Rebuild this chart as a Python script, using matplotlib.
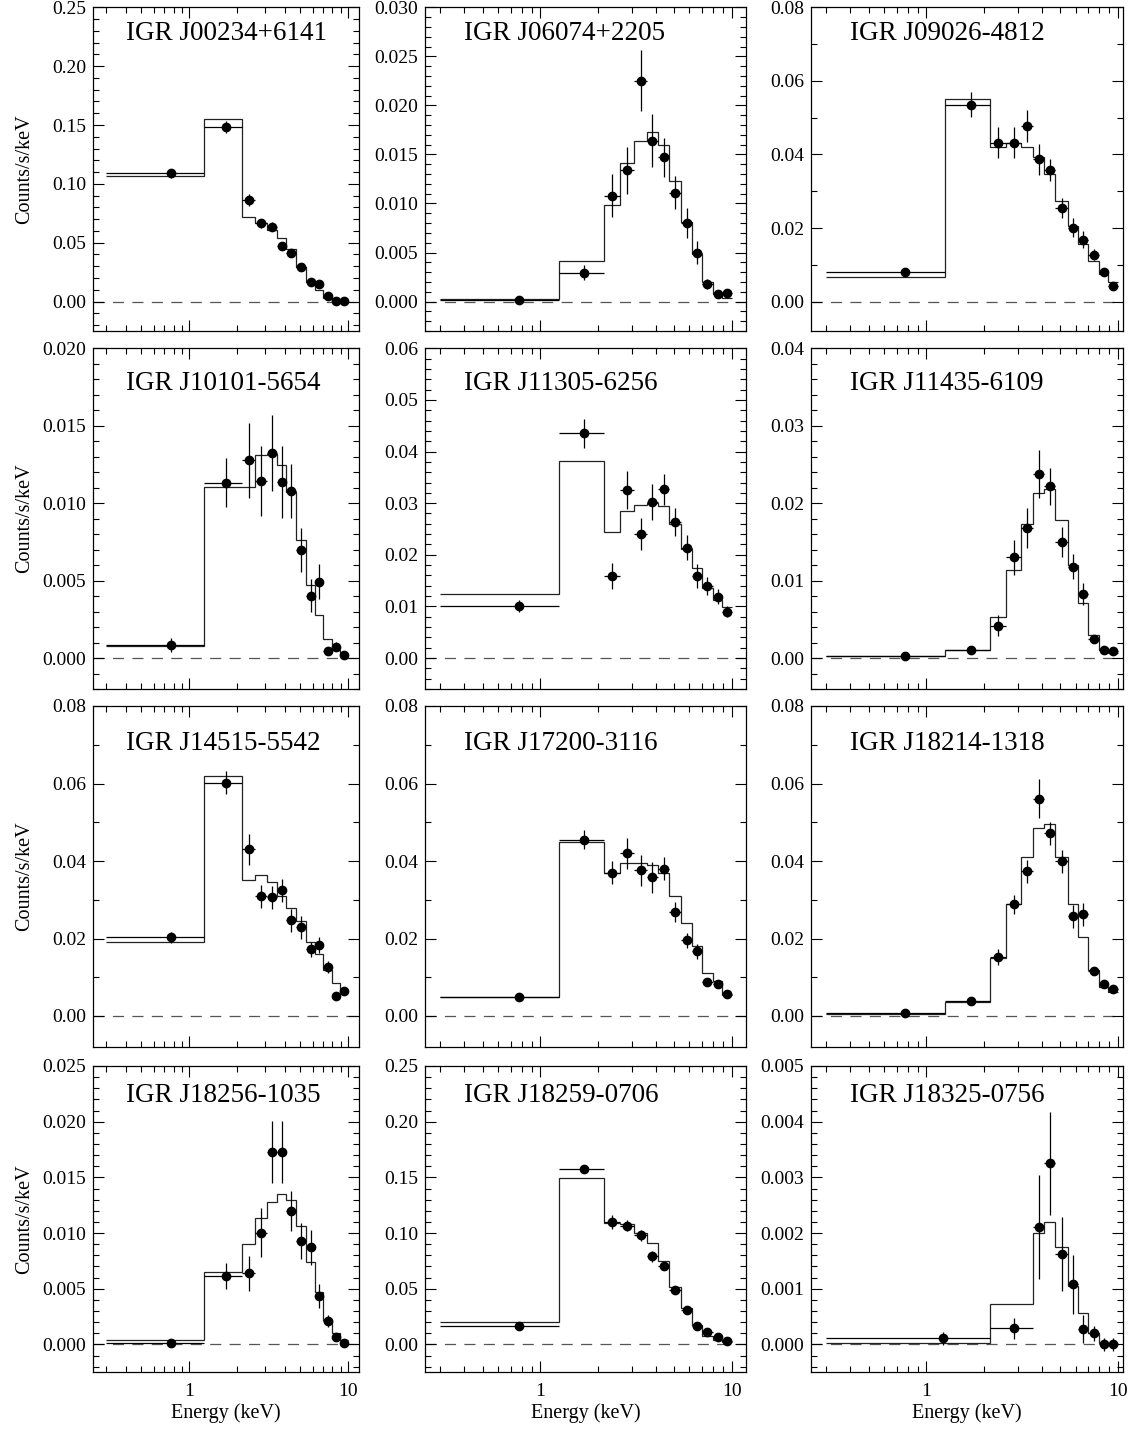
import numpy as np
import matplotlib
matplotlib.use('Agg')
import matplotlib.pyplot as plt
import matplotlib.transforms as mtrans
from matplotlib.ticker import MultipleLocator, FixedLocator, LogLocator, NullFormatter, FuncFormatter

plt.rcParams['font.family'] = ['Liberation Serif', 'DejaVu Serif']
plt.rcParams['lines.scale_dashes'] = False

# energy grouping (keV)
edges = [0.3, 1.25, 2.15, 2.6, 3.1, 3.6, 4.1, 4.7, 5.45, 6.2, 6.95, 7.95, 8.9, 10.0]
edges_j18325 = [0.3, 2.15, 3.6, 4.1, 4.7, 5.45, 6.2, 6.95, 7.95, 8.9, 10.0]

# counts/s/keV: data, 1-sigma error, model
j00234_rate = [0.109, 0.148, 0.0864, 0.0665, 0.0637, 0.0473, 0.0416, 0.0297, 0.0167, 0.0150, 0.0048, 0.0009, 0.0009]
j00234_err = [0.004, 0.005, 0.005, 0.004, 0.004, 0.003, 0.003, 0.002, 0.002, 0.002, 0.0015, 0.0008, 0.0008]
j00234_model = [0.107, 0.155, 0.0722, 0.067, 0.061, 0.054, 0.0445, 0.0297, 0.017, 0.0099, 0.0028, 0.0003, 0.0002]

j06074_rate = [0.00015, 0.00296, 0.0108, 0.0134, 0.0225, 0.0164, 0.0147, 0.0111, 0.0080, 0.0050, 0.0018, 0.00075, 0.0009]
j06074_err = [0.0002, 0.00075, 0.0022, 0.0024, 0.0031, 0.0027, 0.0020, 0.0017, 0.0015, 0.0012, 0.0005, 0.0002, 0.0003]
j06074_model = [0.00025, 0.0041, 0.0098, 0.0141, 0.0164, 0.0173, 0.0160, 0.0123, 0.0081, 0.0049, 0.0020, 0.00075, 0.00034]

j09026_rate = [0.0081, 0.0535, 0.0432, 0.0432, 0.0478, 0.0387, 0.0358, 0.0254, 0.0201, 0.0168, 0.0127, 0.0080, 0.0041]
j09026_err = [0.0007, 0.0034, 0.0043, 0.0043, 0.0043, 0.0042, 0.0030, 0.0028, 0.0025, 0.0023, 0.0015, 0.0010, 0.0006]
j09026_model = [0.0066, 0.0550, 0.0419, 0.0432, 0.0419, 0.0394, 0.0346, 0.0274, 0.0206, 0.0156, 0.0109, 0.0075, 0.0054]

j10101_rate = [0.00084, 0.01131, 0.01276, 0.0114, 0.01325, 0.01136, 0.01078, 0.00698, 0.00403, 0.00494, 0.00047, 0.00073, 0.0002]
j10101_err = [0.00043, 0.00158, 0.0024, 0.00226, 0.00244, 0.0023, 0.00176, 0.00143, 0.00108, 0.00115, 0.0002, 0.0003, 0.0001]
j10101_model = [0.00075, 0.01106, 0.01106, 0.0131, 0.0132, 0.01248, 0.0107, 0.0076, 0.0047, 0.0028, 0.0012, 0.0005, 0.0002]

j11305_rate = [0.0101, 0.0435, 0.0159, 0.0326, 0.0240, 0.0303, 0.0327, 0.0264, 0.0214, 0.0159, 0.0139, 0.0119, 0.0090]
j11305_err = [0.0012, 0.0029, 0.0026, 0.0037, 0.0031, 0.0035, 0.0030, 0.0027, 0.0025, 0.0023, 0.0017, 0.0015, 0.0010]
j11305_model = [0.0124, 0.0382, 0.0245, 0.0284, 0.0297, 0.0300, 0.0294, 0.0260, 0.0212, 0.0174, 0.0136, 0.0112, 0.0098]

j11435_rate = [0.0002, 0.0010, 0.0042, 0.0130, 0.0168, 0.0238, 0.0222, 0.0150, 0.0118, 0.0083, 0.0025, 0.0010, 0.0009]
j11435_err = [0.0001, 0.0002, 0.0013, 0.0023, 0.0026, 0.0031, 0.0024, 0.0019, 0.0016, 0.0014, 0.0004, 0.0002, 0.0002]
j11435_model = [0.0002, 0.0010, 0.0053, 0.0114, 0.0173, 0.0213, 0.0218, 0.0178, 0.0120, 0.0071, 0.0030, 0.0011, 0.0007]

j14515_rate = [0.0203, 0.0602, 0.0430, 0.0309, 0.0306, 0.0324, 0.0247, 0.0229, 0.0172, 0.0183, 0.0126, 0.0051, 0.0064]
j14515_err = [0.0015, 0.0030, 0.0040, 0.0030, 0.0030, 0.0030, 0.0030, 0.0030, 0.0020, 0.0020, 0.0015, 0.0010, 0.0010]
j14515_model = [0.0190, 0.0620, 0.0352, 0.0363, 0.0345, 0.0310, 0.0280, 0.0245, 0.0190, 0.0160, 0.0118, 0.0085, 0.0065]

j17200_rate = [0.0049, 0.0455, 0.0370, 0.0420, 0.0376, 0.0358, 0.0380, 0.0268, 0.0195, 0.0167, 0.0088, 0.0083, 0.0057]
j17200_err = [0.0004, 0.0025, 0.0030, 0.0040, 0.0040, 0.0040, 0.0030, 0.0025, 0.0020, 0.0020, 0.0010, 0.0010, 0.0007]
j17200_model = [0.0050, 0.0448, 0.0370, 0.0395, 0.0395, 0.0390, 0.0370, 0.0310, 0.0240, 0.0180, 0.0110, 0.0090, 0.0055]

j18214_rate = [0.0008, 0.0039, 0.0152, 0.0288, 0.0373, 0.0561, 0.0471, 0.0399, 0.0257, 0.0262, 0.0116, 0.0083, 0.0069]
j18214_err = [0.0003, 0.0005, 0.0020, 0.0025, 0.0030, 0.0050, 0.0030, 0.0030, 0.0030, 0.0030, 0.0010, 0.0010, 0.0008]
j18214_model = [0.0006, 0.0037, 0.0150, 0.0290, 0.0410, 0.0485, 0.0495, 0.0410, 0.0290, 0.0205, 0.0118, 0.0075, 0.0062]

j18256_rate = [0.00015, 0.00614, 0.00638, 0.01003, 0.0173, 0.0173, 0.01198, 0.00931, 0.00871, 0.00437, 0.0021, 0.00063, 0.0001]
j18256_err = [0.0001, 0.0012, 0.0016, 0.0022, 0.0028, 0.0028, 0.0018, 0.0016, 0.0016, 0.0011, 0.0005, 0.0003, 0.0001]
j18256_model = [0.0004, 0.0065, 0.0090, 0.01135, 0.0128, 0.01347, 0.01297, 0.01066, 0.00737, 0.00467, 0.0022, 0.0010, 0.0004]

j18259_rate = [0.0168, 0.1575, 0.110, 0.1066, 0.0982, 0.0793, 0.0704, 0.0488, 0.0308, 0.0168, 0.0108, 0.0069, 0.0030]
j18259_err = [0.0015, 0.004, 0.006, 0.005, 0.005, 0.005, 0.004, 0.003, 0.002, 0.002, 0.0015, 0.001, 0.001]
j18259_model = [0.0198, 0.149, 0.109, 0.108, 0.100, 0.0913, 0.0751, 0.0518, 0.0323, 0.0174, 0.0075, 0.0039, 0.0024]

j18325_rate = [0.000108, 0.00029, 0.00211, 0.00325, 0.00162, 0.00108, 0.00028, 0.00020, 0.0, 0.0]
j18325_err = [0.00011, 0.00019, 0.00093, 0.00093, 0.00066, 0.00053, 0.00025, 0.00013, 0.00012, 0.00012]
j18325_model = [0.00002, 0.00072, 0.00201, 0.00219, 0.00175, 0.00105, 0.00057, 0.0002, 0.00002, 0.0]

names = ['IGR J00234+6141', 'IGR J06074+2205', 'IGR J09026-4812',
         'IGR J10101-5654', 'IGR J11305-6256', 'IGR J11435-6109',
         'IGR J14515-5542', 'IGR J17200-3116', 'IGR J18214-1318',
         'IGR J18256-1035', 'IGR J18259-0706', 'IGR J18325-0756']
rates = [j00234_rate, j06074_rate, j09026_rate, j10101_rate, j11305_rate, j11435_rate,
         j14515_rate, j17200_rate, j18214_rate, j18256_rate, j18259_rate, j18325_rate]
errs = [j00234_err, j06074_err, j09026_err, j10101_err, j11305_err, j11435_err,
        j14515_err, j17200_err, j18214_err, j18256_err, j18259_err, j18325_err]
models = [j00234_model, j06074_model, j09026_model, j10101_model, j11305_model, j11435_model,
          j14515_model, j17200_model, j18214_model, j18256_model, j18259_model, j18325_model]
groupings = [edges] * 11 + [edges_j18325]

# y axis: top value, major step, minor step
y_top = [0.25, 0.030, 0.08, 0.020, 0.06, 0.04, 0.08, 0.08, 0.08, 0.025, 0.25, 0.005]
y_major = [0.05, 0.005, 0.02, 0.005, 0.01, 0.01, 0.02, 0.02, 0.02, 0.005, 0.05, 0.001]
y_minor = [0.01, 0.001, 0.01, 0.001, 0.002, 0.002, 0.01, 0.01, 0.01, 0.001, 0.01, 0.0002]

# layout in pixels (figure 1135 x 1432)
W, H = 1135, 1432
col_left = [93.3, 425, 811]
col_width = [266, 321, 312.3]
col_xmax = [11.8, 11.85, 10.65]
row_top = [7.3, 348.3, 706, 1066]
row_height = [323.7, 340.7, 341, 306.3]
title_y = [0.899, 0.878, 0.87, 0.883]

fig = plt.figure(figsize=(W / 100, H / 100), dpi=100)

for i in range(12):
    r, c = divmod(i, 3)
    ax = fig.add_axes([col_left[c] / W, 1 - (row_top[r] + row_height[r]) / H,
                       col_width[c] / W, row_height[r] / H])
    e = np.array(groupings[i])
    lo, hi = e[:-1], e[1:]
    x = (lo + hi) / 2
    ax.axhline(0, color='#555555', lw=0.9, dashes=(8, 6), zorder=1)
    ax.stairs(models[i], e, baseline=None, color='#222222', lw=0.9, zorder=2)
    ax.errorbar(x, rates[i], xerr=[x - lo, hi - x], yerr=errs[i], fmt='o', color='k',
                ms=6, elinewidth=0.9, capsize=0, zorder=3)

    ax.set_xscale('log')
    ax.set_xlim(0.25, col_xmax[c])
    ax.set_ylim(-0.1 * y_top[i], y_top[i])
    ax.xaxis.set_major_locator(FixedLocator([1, 10]))
    ax.xaxis.set_minor_locator(LogLocator(base=10, subs=np.arange(2, 10)))
    ax.xaxis.set_minor_formatter(NullFormatter())
    if r == 3:
        ax.xaxis.set_major_formatter(FuncFormatter(lambda v, p: '%g' % v))
        ax.set_xlabel('Energy (keV)', fontsize=14.5, labelpad=2)
    else:
        ax.xaxis.set_major_formatter(NullFormatter())
    ax.yaxis.set_major_locator(MultipleLocator(y_major[i]))
    ax.yaxis.set_minor_locator(MultipleLocator(y_minor[i]))
    nd = 2 if y_major[i] >= 0.01 else 3
    ax.yaxis.set_major_formatter(FuncFormatter(lambda v, p, nd=nd: '%.*f' % (nd, abs(v) if abs(v) < 1e-12 else v)))
    if c == 0:
        ax.set_ylabel('Counts/s/keV', fontsize=14.5, va='center')
        ax.yaxis.set_label_coords((25 - col_left[0]) / col_width[0], 0.5)

    ax.tick_params(which='both', direction='in', top=True, right=True, width=0.8, labelsize=14)
    ax.tick_params(which='major', length=8, pad=5)
    ax.tick_params(which='minor', length=4)
    ax.tick_params(axis='x', which='major', pad=8)
    for s in ax.spines.values():
        s.set_linewidth(0.9)

    tr = mtrans.blended_transform_factory(ax.transData, ax.transAxes)
    ax.text(0.4, title_y[r], names[i], transform=tr, fontsize=19.5, va='baseline', ha='left')

fig.savefig('out.png', dpi=100)
plt.close(fig)
